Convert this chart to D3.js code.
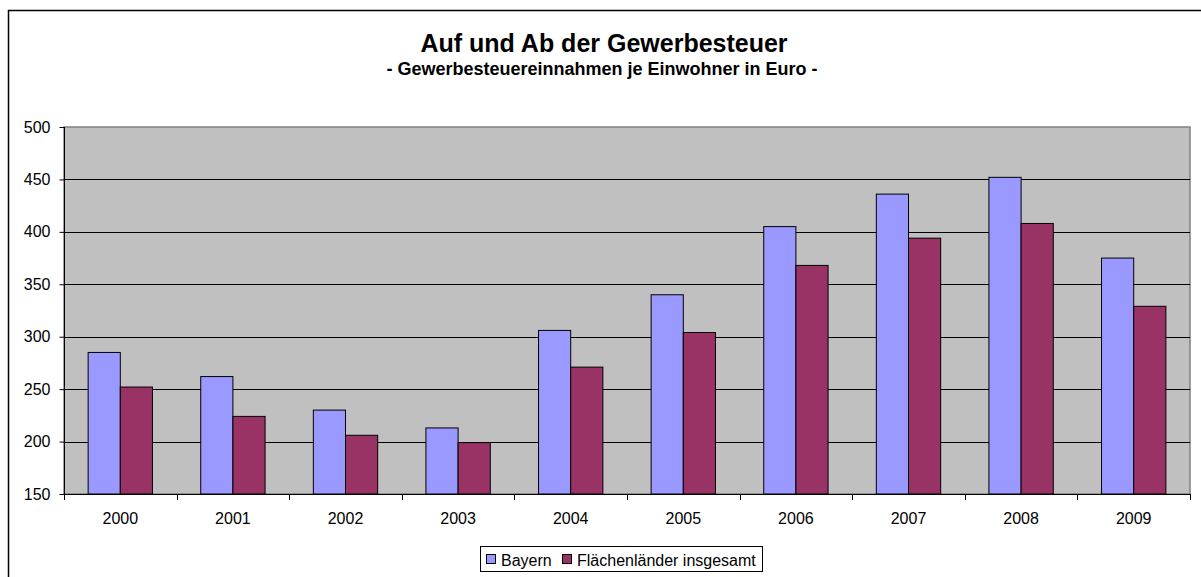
<!DOCTYPE html>
<html>
<head>
<meta charset="utf-8">
<script src="https://cdn.jsdelivr.net/npm/d3@7"></script>
<style>
  body { margin: 0; background: #fff; }
  text { font-family: "Liberation Sans", Arial, sans-serif; }
</style>
</head>
<body>
<svg width="1201" height="577"></svg>
<script>
  var years = ["2000", "2001", "2002", "2003", "2004", "2005", "2006", "2007", "2008", "2009"];
  var bayern = [285, 262, 230, 213, 306, 340, 405, 436, 452, 375];
  var flaechen = [252, 224, 206, 199, 271, 304, 368, 394, 408, 329];
  var seriesNames = ["Bayern", "Flächenländer insgesamt"];
  var seriesColors = ["#9999ff", "#993366"];
  var yTicks = [150, 200, 250, 300, 350, 400, 450, 500];

  var svg = d3.select("svg");
  var plotL = 64, plotR = 1190, plotT = 127, plotB = 494;

  // outer chart border (runs off the picture right and bottom)
  svg.append("rect").attr("x", 8.5).attr("y", 10.5).attr("width", 1200).attr("height", 600)
    .attr("fill", "#fff").attr("stroke", "#000").attr("stroke-width", 1.5);

  var x = d3.scaleBand().domain(years).range([plotL, plotR]).paddingInner(0).paddingOuter(0);
  var y = d3.scaleLinear().domain([150, 500]).range([plotB, plotT]);

  // plot area
  svg.append("rect").attr("x", plotL).attr("y", plotT).attr("width", plotR - plotL).attr("height", plotB - plotT)
    .attr("fill", "#c0c0c0").attr("stroke", "#808080").attr("stroke-width", 1.5);

  // gridlines
  svg.append("g").selectAll("line").data(yTicks.slice(1, -1)).enter().append("line")
    .attr("x1", plotL).attr("x2", plotR)
    .attr("y1", function(d) { return Math.round(y(d)) + 0.5; })
    .attr("y2", function(d) { return Math.round(y(d)) + 0.5; })
    .attr("stroke", "#000").attr("stroke-width", 1);

  // bars: gap width 150%
  var band = x.bandwidth();
  var bw = band / 3.5;
  var data = [bayern, flaechen];
  data.forEach(function(vals, s) {
    svg.append("g").selectAll("rect").data(vals).enter().append("rect")
      .attr("x", function(d, i) { return x(years[i]) + bw * 0.75 + s * bw; })
      .attr("y", function(d) { return y(d); })
      .attr("width", bw)
      .attr("height", function(d) { return plotB - y(d); })
      .attr("fill", seriesColors[s])
      .attr("stroke", "#000").attr("stroke-width", 1);
  });

  // y axis
  var yAxis = svg.append("g").attr("transform", "translate(" + (plotL + 0.5) + ",0)")
    .call(d3.axisLeft(y).tickValues(yTicks).tickSize(5).tickPadding(9));
  yAxis.select(".domain").attr("stroke", "#000").attr("d", "M0," + plotT + "V" + plotB);
  yAxis.selectAll(".tick line").attr("stroke", "#000");
  yAxis.selectAll("text").attr("font-size", 16).attr("fill", "#000")
    .style("font-family", "'Liberation Sans', Arial, sans-serif");

  // x axis
  var xAxis = svg.append("g").attr("transform", "translate(0," + plotB + ")");
  xAxis.append("line").attr("x1", plotL).attr("x2", plotR).attr("y1", 0.5).attr("y2", 0.5).attr("stroke", "#000");
  var bounds = years.map(function(d) { return x(d); }).concat([plotR]);
  xAxis.selectAll("line.tick").data(bounds).enter().append("line").attr("class", "tick")
    .attr("x1", function(d) { return Math.round(d) + 0.5; }).attr("x2", function(d) { return Math.round(d) + 0.5; })
    .attr("y1", 0).attr("y2", 6).attr("stroke", "#000");
  xAxis.selectAll("text").data(years).enter().append("text")
    .attr("x", function(d) { return x(d) + band / 2; })
    .attr("y", 30)
    .attr("text-anchor", "middle").attr("font-size", 16).attr("fill", "#000")
    .text(function(d) { return d; });

  // titles
  svg.append("text").attr("x", 604).attr("y", 52).attr("text-anchor", "middle")
    .attr("font-size", 25).attr("font-weight", "bold").text("Auf und Ab der Gewerbesteuer");
  svg.append("text").attr("x", 602).attr("y", 75).attr("text-anchor", "middle")
    .attr("font-size", 18).attr("font-weight", "bold").text("- Gewerbesteuereinnahmen je Einwohner in Euro -");

  // legend
  var lg = svg.append("g");
  lg.append("rect").attr("x", 480.5).attr("y", 546.5).attr("width", 282).attr("height", 25)
    .attr("fill", "#fff").attr("stroke", "#000");
  var lx = [486, 562];
  seriesNames.forEach(function(name, i) {
    lg.append("rect").attr("x", lx[i] + 0.5).attr("y", 554.5).attr("width", 9).attr("height", 9)
      .attr("fill", seriesColors[i]).attr("stroke", "#000");
    lg.append("text").attr("x", lx[i] + 15).attr("y", 566).attr("font-size", 16).attr("fill", "#000").text(name);
  });
</script>
</body>
</html>
